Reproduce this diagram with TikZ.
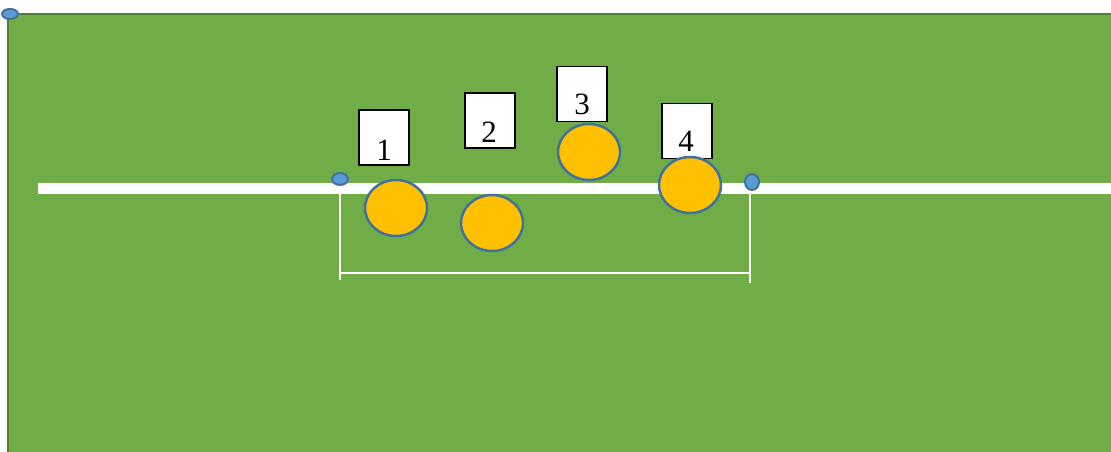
\documentclass[tikz,border=0pt]{standalone}
\usepackage{fontspec}
\setmainfont{Liberation Serif}
\usetikzlibrary{shapes.geometric}
\definecolor{fieldgreen}{HTML}{70AD47}
\definecolor{fieldedge}{HTML}{507E32}
\definecolor{ballfill}{HTML}{FFC000}
\definecolor{balledge}{HTML}{41719C}
\definecolor{dotfill}{HTML}{5B9BD5}
\begin{document}
\begin{tikzpicture}[x=1pt,y=-1pt,
  player/.style={draw=balledge,line width=2.5pt,fill=ballfill,ellipse,minimum width=62pt,minimum height=56pt,inner sep=0pt},
  numbox/.style={draw=black,line width=1.6pt,fill=white,minimum width=50pt,minimum height=55pt,inner sep=0pt},
  numtext/.style={font=\fontsize{31}{31}\selectfont,inner sep=0pt,anchor=base},
  marker/.style={draw=balledge,line width=2pt,fill=dotfill,ellipse,inner sep=0pt},
  thin/.style={draw=white,line width=1.2pt}]
\useasboundingbox (0,0) rectangle (1111,452);
\fill[white] (0,0) rectangle (1111,452);
\fill[fieldgreen] (8,14) rectangle (1111,452);
\draw[fieldedge,line width=2.5pt] (8,452) -- (8,14) -- (1111,14);
% white line
\fill[white] (38,183) rectangle (1111,194);
% measurement lines
\coordinate (la) at (340,190);
\coordinate (lb) at (340,280);
\coordinate (ra) at (750,190);
\coordinate (rb) at (750,283);
\coordinate (ha) at (340,273);
\coordinate (hb) at (750,273);
\draw[thin] (la) -- (lb);
\draw[thin] (ra) -- (rb);
\draw[thin] (ha) -- (hb);
% markers
\node[marker,minimum width=16pt,minimum height=10pt] (m0) at (10,14) {};
\node[marker,minimum width=16pt,minimum height=12pt] (m1) at (340,179) {};
\node[marker,minimum width=14pt,minimum height=16pt] (m2) at (752,182) {};
% boxes
\node[numbox] (b1) at (384,137.5) {};
\node[numbox] (b2) at (490,120.5) {};
\node[numbox] (b3) at (582,94) {};
\node[numbox] (b4) at (687,131) {};
\node[numtext] (t1) at (384,160) {1};
\node[numtext] (t2) at (489,142) {2};
\node[numtext] (t3) at (582,114) {3};
\node[numtext] (t4) at (686,151) {4};
% players
\node[player] (p1) at (396,208) {};
\node[player] (p2) at (492,223) {};
\node[player] (p3) at (589,152) {};
\node[player] (p4) at (690,185) {};
\end{tikzpicture}
\end{document}
